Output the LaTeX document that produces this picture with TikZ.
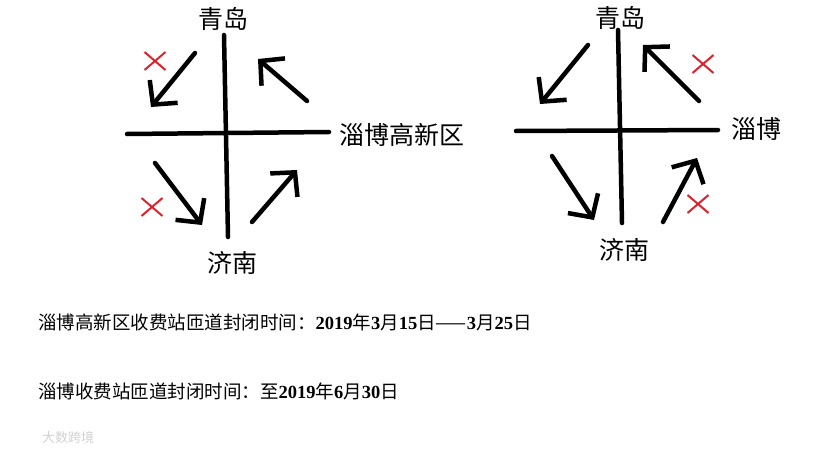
\documentclass[tikz,border=0pt]{standalone}
\usepackage{fontspec}
\newfontfamily\cjk{Noto Sans CJK SC}
\newfontfamily\numfont{Liberation Serif}
\usetikzlibrary{arrows.meta,shapes.misc}
\definecolor{xred}{RGB}{221,34,44}
\newcommand{\nm}[1]{{\numfont\bfseries #1}}
\tikzset{
  road/.style={line width=4.5pt, line cap=round},
  turn/.style={line width=4.5pt, line cap=round, -{Straight Barb[length=17pt,width=36pt]}},
  nogo/.style={draw=xred, cross out, line width=2pt, minimum width=19pt, minimum height=16pt, inner sep=0pt},
  lbl/.style={font=\cjk\fontsize{25}{27}\selectfont, inner sep=0pt},
  note/.style={font=\cjk\fontsize{18.5}{20}\selectfont, anchor=west, inner sep=0pt}
}
\begin{document}
\begin{tikzpicture}[x=1pt,y=-1pt]
    \useasboundingbox (0,0) rectangle (819,460);

    % Left crossing
    \coordinate (n1) at (224,35);
    \coordinate (s1) at (228,237);
    \coordinate (w1) at (127,134);
    \coordinate (e1) at (329,132);
    \node[lbl] (qd1) at (223,19) {青岛};
    \node[lbl] (jn1) at (232,263) {济南};
    \node[lbl, anchor=west] (zbg) at (339,135) {淄博高新区};

    \coordinate (a1s) at (195,53);  \coordinate (a1e) at (151,107);
    \coordinate (a2s) at (307,101); \coordinate (a2e) at (258,59);
    \coordinate (a3s) at (155,163); \coordinate (a3e) at (202,225);
    \coordinate (a4s) at (252,222); \coordinate (a4e) at (297,170);
    \node[nogo] (x1) at (155,61) {};
    \node[nogo] (x2) at (152,207) {};

    % Right crossing
    \coordinate (n2) at (618,30);
    \coordinate (s2) at (622,223);
    \coordinate (w2) at (516,131);
    \coordinate (e2) at (718,130);
    \node[lbl] (qd2) at (620,18) {青岛};
    \node[lbl] (jn2) at (624,250) {济南};
    \node[lbl, anchor=west] (zb) at (731,129) {淄博};

    \coordinate (b1s) at (588,45);  \coordinate (b1e) at (540,104);
    \coordinate (b2s) at (699,101); \coordinate (b2e) at (643,45);
    \coordinate (b3s) at (552,156); \coordinate (b3e) at (594,220);
    \coordinate (b4s) at (663,222); \coordinate (b4e) at (697,158);
    \node[nogo] (x3) at (703,64) {};
    \node[nogo] (x4) at (698,204) {};

    % Lines
    \draw[road] (n1) -- (s1);
    \draw[road] (w1) -- (e1);
    \draw[road] (n2) -- (s2);
    \draw[road] (w2) -- (e2);

    \draw[turn] (a1s) -- (a1e);
    \draw[turn] (a2s) -- (a2e);
    \draw[turn] (a3s) -- (a3e);
    \draw[turn] (a4s) -- (a4e);
    \draw[turn] (b1s) -- (b1e);
    \draw[turn] (b2s) -- (b2e);
    \draw[turn] (b3s) -- (b3e);
    \draw[turn] (b4s) -- (b4e);

    % Notes
    \node[note] (t1) at (38,322) {淄博高新区收费站匝道封闭时间：\nm{2019}年\nm{3}月\nm{15}日——\nm{3}月\nm{25}日};
    \node[note] (t2) at (38,391) {淄博收费站匝道封闭时间：至\nm{2019}年\nm{6}月\nm{30}日};
    \node[font=\cjk\fontsize{13}{14}\selectfont, text=black!18, anchor=west, inner sep=0pt] (wm) at (42,438) {大数跨境};
\end{tikzpicture}
\end{document}
